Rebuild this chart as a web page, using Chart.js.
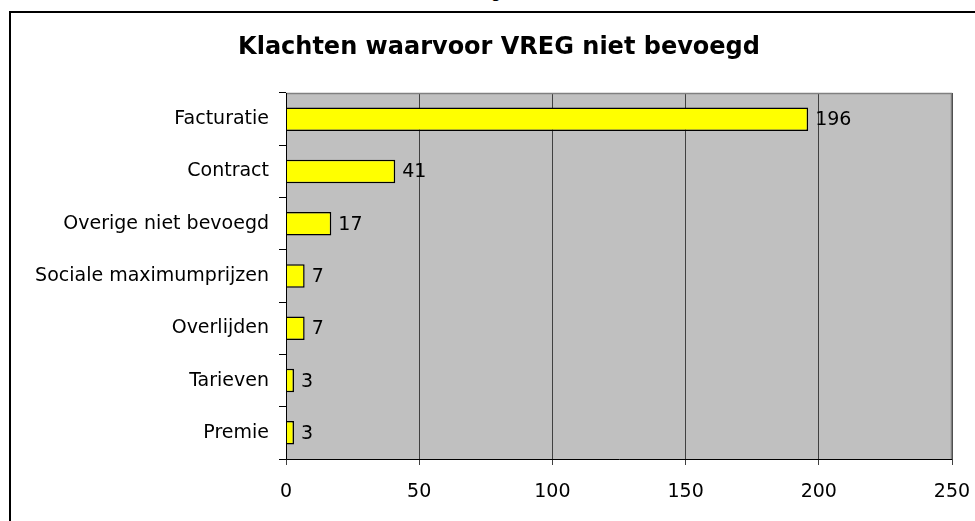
<!DOCTYPE html>
<html><head><meta charset="utf-8">
<script src="https://cdn.jsdelivr.net/npm/chart.js@4"></script>
<style>
html,body{margin:0;padding:0;background:#fff;}
#wrap{position:relative;width:975px;height:521px;overflow:hidden;}
#frame{position:absolute;left:9px;top:11px;width:980px;height:520px;border-top:2px solid #000;border-left:2px solid #000;}
#cap{position:absolute;left:491px;top:-17px;font:16px "DejaVu Sans";color:#000;}
canvas{position:absolute;left:0;top:0;}
</style></head><body>
<div id="wrap"><div id="cap">g</div><div id="frame"></div><canvas id="c" width="975" height="521"></canvas></div>
<script>
const categories = ["Facturatie","Contract","Overige niet bevoegd","Sociale maximumprijzen","Overlijden","Tarieven","Premie"];
const values = [196,41,17,7,7,3,3];
const xTicks = [0,50,100,150,200,250];
const titleText = "Klachten waarvoor VREG niet bevoegd";
const FONT = "DejaVu Sans";

const bgPlugin = {
  id:'bg',
  beforeDraw(chart){
    const {ctx, chartArea:a} = chart;
    ctx.save(); ctx.fillStyle='#C0C0C0';
    ctx.fillRect(a.left,a.top,a.right-a.left,a.bottom-a.top);
    ctx.restore();
  },
  afterDraw(chart){
    const {ctx, chartArea:a} = chart;
    ctx.save(); ctx.strokeStyle='#808080'; ctx.lineWidth=1.5;
    ctx.beginPath(); ctx.moveTo(a.left,a.top+0.5); ctx.lineTo(a.right-0.5,a.top+0.5); ctx.lineTo(a.right-0.5,a.bottom); ctx.stroke();
    ctx.strokeStyle='#000'; ctx.lineWidth=1;
    ctx.beginPath(); ctx.moveTo(a.left+0.5,a.top); ctx.lineTo(a.left+0.5,a.bottom+0.5); ctx.lineTo(a.right,a.bottom+0.5); ctx.stroke();
    ctx.fillStyle='#000'; ctx.font='bold 24px "'+FONT+'"'; ctx.textAlign='center'; ctx.textBaseline='middle';
    ctx.fillText(titleText, 499, 48);
    ctx.restore();
  },
  afterDatasetsDraw(chart){
    const {ctx} = chart;
    const meta = chart.getDatasetMeta(0);
    ctx.save(); ctx.fillStyle='#000'; ctx.font='19px "'+FONT+'"';
    ctx.textAlign='left'; ctx.textBaseline='middle';
    meta.data.forEach((el,i)=>{ ctx.fillText(String(values[i]), el.x+7, el.y+1); });
    ctx.restore();
  }
};

new Chart(document.getElementById('c'), {
  type:'bar',
  data:{labels:categories, datasets:[{data:values, backgroundColor:'#FFFF00', borderColor:'#000', borderWidth:1.5, barPercentage:0.45, categoryPercentage:1}]},
  options:{
    indexAxis:'y', responsive:false, animation:false,
    layout:{padding:{left:0,right:23,top:93,bottom:0}},
    plugins:{legend:{display:false}, tooltip:{enabled:false}, title:{display:false}},
    scales:{
      x:{min:0,max:250, afterBuildTicks(s){ s.ticks = xTicks.map(v=>({value:v})); },
        afterFit(s){ s.height=62; s.paddingRight=0; s.paddingLeft=0; },
        grid:{color:'#404040', lineWidth:1, tickLength:6, drawTicks:true},
        border:{display:false},
        ticks:{color:'#000', font:{family:FONT,size:19}, padding:16, maxRotation:0}},
      y:{afterFit(s){ s.width=286; s.paddingTop=0; s.paddingBottom=0; },
        grid:{drawOnChartArea:false, color:'#000', tickLength:7, offset:true},
        border:{display:false},
        ticks:{color:'#000', font:{family:FONT,size:19}, padding:10}}
    }
  },
  plugins:[bgPlugin]
});
</script></body></html>
